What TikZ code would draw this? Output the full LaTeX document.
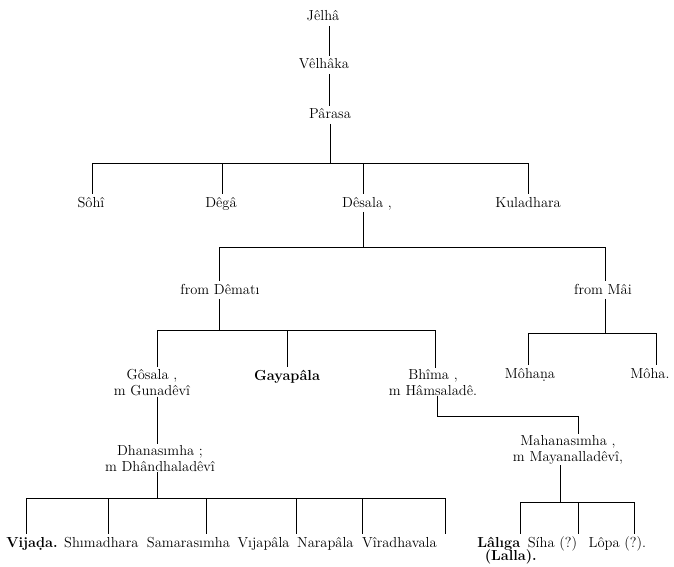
\documentclass[tikz,border=0pt]{standalone}
\usepackage{fontspec}
\usetikzlibrary{positioning}
\begin{document}
\begin{tikzpicture}[x=1pt,y=-1pt,line width=.6pt,
every node/.style={inner sep=1pt,anchor=base,font=\fontsize{14.5}{16}\selectfont},
one/.style={text height=12pt,text depth=3.5pt},
two/.style={align=center}]
\useasboundingbox (0,0) rectangle (674,567);
% top line
\node[one] (Jelha) at (323,21) {Jêlhâ};
\node[one] (Velhaka) at (324,69) {Vêlhâka};
\node[one] (Parasa) at (330,119) {Pârasa};
\coordinate (c0) at (329,0);
\draw (Jelha.south -| c0)--(Velhaka.north -| c0);
\draw (Velhaka.south -| c0)--(Parasa.north -| c0);
% sons of Parasa
\node[one] (Sohi) at (91,207) {Sôhî};
\node[one] (Dega) at (221,207) {Dêgâ};
\node[one] (Desala) at (367,207) {Dêsala ,};
\node[one] (Kuladhara) at (528,207) {Kuladhara};
\coordinate (b1) at (330,163);
\coordinate (s1) at (92,163);
\coordinate (s2) at (222,163);
\coordinate (s3) at (363,163);
\coordinate (s4) at (528,163);
\draw (Parasa.south -| b1)--(b1);
\draw (s1)--(s4);
\draw (s1)--(s1 |- Sohi.north);
\draw (s2)--(s2 |- Dega.north);
\draw (s3)--(s3 |- Desala.north);
\draw (s4)--(s4 |- Kuladhara.north);
% two mothers
\node[one] (FromD) at (220,294) {from Dêmatı};
\node[one] (FromM) at (603,294) {from Mâi};
\coordinate (b2) at (363,247);
\coordinate (t1) at (219,247);
\coordinate (t2) at (605,247);
\draw (Desala.south -| b2)--(b2);
\draw (t1)--(t2);
\draw (t1)--(t1 |- FromD.north);
\draw (t2)--(t2 |- FromM.north);
% from Dematı
\node[two] (Gosala) at (152,395) {Gôsala ,\\m Gunadêvî};
\node[one,font=\fontsize{14.5}{16}\selectfont\bfseries] (Gayapala) at (287,380) {Gayapâla};
\node[two] (Bhima) at (433,395) {Bhîma ,\\m Hâmsaladê.};
\coordinate (b3) at (219,330);
\coordinate (u1) at (157,330);
\coordinate (u2) at (287,330);
\coordinate (u3) at (435,330);
\draw (FromD.south -| b3)--(b3);
\draw (u1)--(u3);
\draw (u1)--(u1 |- Gosala.north);
\draw (u2)--(u2 |- Gayapala.north);
\draw (u3)--(u3 |- Bhima.north);
% from Mai
\node[one] (Mohana) at (530,378) {Môhaṇa};
\node[one] (Moha) at (650,378) {Môha.};
\coordinate (b4) at (605,333);
\coordinate (v1) at (528,333);
\coordinate (v2) at (656,333);
\draw (FromM.south -| b4)--(b4);
\draw (v1)--(v2);
\draw (v1)--(v1 |- Mohana.north);
\draw (v2)--(v2 |- Moha.north);
% Gosala's line
\node[two] (Dhana) at (160,471) {Dhanasımha ;\\m Dhândhaladêvî};
\coordinate (c1) at (157,0);
\draw (Gosala.south -| c1)--(Dhana.north -| c1);
\node[one,anchor=base west,font=\fontsize{14.5}{16}\selectfont\bfseries] (Vijada) at (5,547) {Vijaḍa.};
\node[one,base right=4pt of Vijada] (Shimadhara) {Shımadhara};
\node[one,base right=6pt of Shimadhara] (Samara) {Samarasımha};
\node[one,base right=5pt of Samara] (Vijapala) {Vıjapâla};
\node[one,base right=5pt of Vijapala] (Narapala) {Narapâla};
\node[one,base right=6pt of Narapala] (Vira) {Vîradhavala};
\coordinate (b5) at (157,498);
\coordinate (w1) at (26,498);
\coordinate (w2) at (108,498);
\coordinate (w3) at (206,498);
\coordinate (w4) at (296,498);
\coordinate (w5) at (362,498);
\coordinate (w6) at (445,498);
\draw (Dhana.south -| b5)--(b5);
\draw (w1)--(w6);
\draw (w1)--(w1 |- Vijada.north);
\draw (w2)--(w2 |- Shimadhara.north);
\draw (w3)--(w3 |- Samara.north);
\draw (w4)--(w4 |- Vijapala.north);
\draw (w5)--(w5 |- Narapala.north);
\draw (w6)--(w6 |- Vira.north);
% Bhima's line
\node[two] (Mahana) at (568,461) {Mahanasımha ,\\m Mayanalladêvî,};
\coordinate (c2) at (437,0);
\coordinate (b6) at (437,416);
\coordinate (x1) at (578,416);
\draw (Bhima.south -| c2)--(b6)--(x1);
\draw (x1)--(x1 |- Mahana.north);
\node[one,anchor=base west,font=\fontsize{14.5}{16}\selectfont\bfseries] (Laliga) at (476,547) {Lâlıga};
\node[anchor=base,font=\fontsize{14.5}{16}\selectfont\bfseries] (Lalla) at ([xshift=12pt,yshift=-13pt]Laliga.base) {(Lalla).};
\node[one,base right=5pt of Laliga] (Siha) {Síha (?)};
\node[one,base right=9pt of Siha] (Lopa) {Lôpa (?).};
\coordinate (b7) at (560,502);
\coordinate (y1) at (520,502);
\coordinate (y2) at (578,502);
\coordinate (y3) at (634,502);
\draw (Mahana.south -| b7)--(b7);
\draw (y1)--(y3);
\draw (y1)--(y1 |- Laliga.north);
\draw (y2)--(y2 |- Siha.north);
\draw (y3)--(y3 |- Lopa.north);
\end{tikzpicture}
\end{document}
